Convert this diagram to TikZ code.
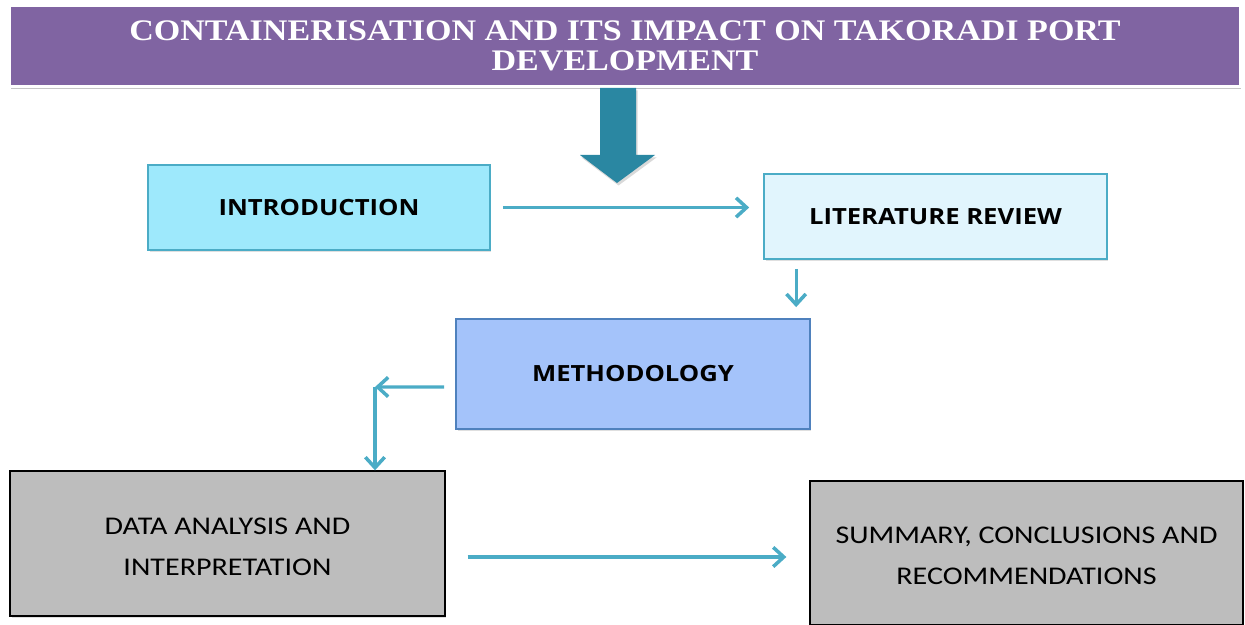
\documentclass[tikz,border=0pt]{standalone}
\usepackage{fontspec}
\setmainfont{Liberation Serif}
\newfontfamily\titlefont{Liberation Serif}[FakeStretch=1.14]
\newfontfamily\headfont{Open Sans}[FakeStretch=1.15]
\newfontfamily\greyfont{Carlito}[FakeStretch=1.18]
\usetikzlibrary{arrows.meta,shadows}

\definecolor{titlepurple}{HTML}{8064A2}
\definecolor{bigteal}{HTML}{2A87A2}
\definecolor{linkblue}{HTML}{4BACC6}
\definecolor{introfill}{HTML}{9EE9FC}
\definecolor{litfill}{HTML}{E1F5FD}
\definecolor{methfill}{HTML}{A4C3FA}
\definecolor{methline}{HTML}{4F81BD}
\definecolor{boxgrey}{HTML}{BDBDBD}

\tikzset{
  softshadow/.style={drop shadow={shadow xshift=0.03cm, shadow yshift=-0.05cm, opacity=0.25}},
  topbox/.style={draw=linkblue, line width=1pt, inner sep=0pt, softshadow,
    font=\headfont\bfseries\fontsize{12.7}{14}\selectfont},
  greybox/.style={draw=black, fill=boxgrey, line width=0.8pt, inner sep=0pt, softshadow, align=center,
    text height=36.2pt, text depth=0pt, font=\greyfont\fontsize{14.5}{23.5}\selectfont},
  link/.style={draw=linkblue, line width=1.8pt, -{Straight Barb[length=6pt, width=11pt, line width=2pt]}}
}

\begin{document}
\begin{tikzpicture}[x=0.02cm, y=-0.02cm]
  \useasboundingbox (0,0) rectangle (1245,625);

  % title banner
  \node[draw=white, line width=2pt, fill=titlepurple, minimum width=24.62cm, minimum height=1.62cm,
        inner sep=0pt, align=center, text=white, drop shadow={shadow xshift=0.02cm, shadow yshift=-0.06cm, opacity=0.45},
        font=\titlefont\bfseries\fontsize{17}{17}\selectfont] (title) at (625,46)
    {CONTAINERISATION AND ITS IMPACT ON TAKORADI PORT\\DEVELOPMENT};

  % big arrow under the banner
  \fill[bigteal, drop shadow={shadow xshift=0.03cm, shadow yshift=-0.05cm, opacity=0.3}]
    (600,88) -- (636,88) -- (636,155) -- (655,155) -- (617,183) -- (580,155) -- (600,155) -- cycle;

  % chapters
  \node[topbox, fill=introfill, minimum width=6.84cm, minimum height=1.70cm] (intro) at (319,207.5) {INTRODUCTION};
  \node[topbox, fill=litfill, minimum width=6.86cm, minimum height=1.70cm] (lit) at (935.5,216.5) {LITERATURE REVIEW};
  \node[topbox, draw=methline, fill=methfill, minimum width=7.08cm, minimum height=2.20cm] (method) at (633,374) {METHODOLOGY};
  \node[greybox, minimum width=8.70cm, minimum height=2.90cm] (data) at (227.5,543.5) {DATA ANALYSIS AND\\INTERPRETATION};
  \node[greybox, minimum width=8.66cm, minimum height=2.88cm] (summary) at (1026.5,553) {SUMMARY, CONCLUSIONS AND\\RECOMMENDATIONS};

  % connectors
  \draw[link, shorten <=0.24cm, shorten >=0.28cm] (intro.east) -- (intro.east -| lit.west);
  \draw[link, shorten <=0.18cm, shorten >=0.22cm] ([xshift=0.66cm]lit.south west) -- ([xshift=0.66cm]lit.south west |- method.north);
  \coordinate (bend) at (375,387);
  \draw[link, shorten <=0.22cm] ([yshift=-0.26cm]method.west) -- (bend);
  \draw[link] (bend) -- (bend |- data.north);
  \draw[link, shorten <=0.44cm, shorten >=0.46cm] ([yshift=-0.27cm]data.east) -- ([yshift=-0.27cm]data.east -| summary.west);
\end{tikzpicture}
\end{document}
